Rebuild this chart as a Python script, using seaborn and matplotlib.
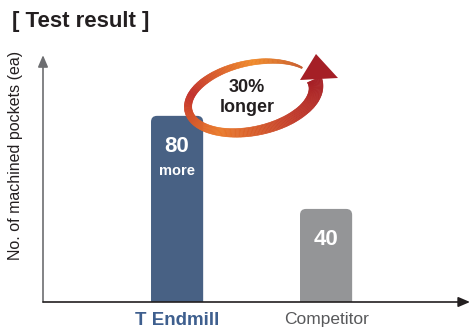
import numpy as np
import pandas as pd
import matplotlib
matplotlib.use("Agg")
import matplotlib.pyplot as plt
import seaborn as sns
from matplotlib.patches import FancyBboxPatch, Polygon
from matplotlib.collections import PolyCollection
from matplotlib.colors import LinearSegmentedColormap

sns.set_style("white")
plt.rcParams["font.family"] = ["Liberation Sans", "DejaVu Sans"]

# --------------------------------------
# DATA
# --------------------------------------
tools = ["T Endmill", "Competitor"]
pockets = [80, 40]
bar_notes = ["more", ""]
bar_colors = ["#3e5f8e", "#939598"]
label_colors = ["#3e5f8e", "#58595b"]
label_weights = ["bold", "normal"]

df = pd.DataFrame({"tool": tools, "pockets": pockets})

W, H = 473, 331
fig = plt.figure(figsize=(W / 100, H / 100), dpi=100)
ax = fig.add_axes([43 / W, 29 / H, 427 / W, 242 / H])

sns.barplot(data=df, x="tool", y="pockets", hue="tool", palette=bar_colors,
            width=0.35, legend=False, ax=ax)

ax.set_xlim(-0.9, 1.966)
ax.set_ylim(0, 104)

# rounded tops: swap the seaborn rectangles for rounded boxes
px_x = 427 / (1.966 + 0.9)
px_y = 242 / 104
for p in list(ax.patches):
    x, w, h = p.get_x(), p.get_width(), p.get_height()
    fc = p.get_facecolor()
    p.remove()
    r = 6 / px_x
    box = FancyBboxPatch((x, -8), w, h + 8,
                         boxstyle=f"round,pad=0,rounding_size={r}",
                         mutation_aspect=px_x / px_y,
                         facecolor=fc, edgecolor="none", clip_on=True)
    ax.add_patch(box)

# value labels
for i, (v, note) in enumerate(zip(pockets, bar_notes)):
    ax.text(i, v - 13, str(v), ha="center", va="center", color="white",
            fontsize=16, fontweight="bold")
    if note:
        ax.text(i, v - 23.5, note, ha="center", va="center", color="white",
                fontsize=10.5, fontweight="bold")

# axes as arrows
for s in ax.spines.values():
    s.set_visible(False)
ax.set_yticks([])
ax.set_xlabel("")
ax.set_ylabel("")
ax.annotate("", xy=(0, 1.02), xytext=(0, 0), xycoords="axes fraction",
            arrowprops=dict(arrowstyle="-|>,head_length=0.7,head_width=0.3",
                            color="#6d6e71", lw=1.2, shrinkA=0, shrinkB=0),
            annotation_clip=False)
ax.annotate("", xy=(1.0, 0), xytext=(0, 0), xycoords="axes fraction",
            arrowprops=dict(arrowstyle="-|>,head_length=0.7,head_width=0.3",
                            color="#231f20", lw=1.2, shrinkA=0, shrinkB=0),
            annotation_clip=False)

ax.set_xticks(range(len(tools)))
ax.set_xticklabels(tools)
ax.tick_params(axis="x", length=0, pad=7)
for lab, c, fw in zip(ax.get_xticklabels(), label_colors, label_weights):
    lab.set_color(c)
    lab.set_fontweight(fw)
    lab.set_fontsize(13.5 if fw == "bold" else 12.5)

fig.text(16 / W, 1 - 155 / H, "No. of machined pockets (ea)", rotation=90,
         ha="center", va="center", fontsize=11.5, color="#231f20")

fig.text(12 / W, 1 - 22 / H, "[ Test result ]", ha="left", va="center",
         fontsize=16, fontweight="bold", color="#231f20")

# --------------------------------------
# curved "30% longer" arrow (figure pixel space)
# --------------------------------------
ov = fig.add_axes([0, 0, 1, 1], zorder=5)
ov.set_xlim(0, W)
ov.set_ylim(H, 0)
ov.axis("off")
ov.patch.set_alpha(0)

cx, cy, a, b, phi = 252, 97, 65, 34, np.deg2rad(12)
th = np.deg2rad(np.linspace(32, 367, 280))
X = a * np.cos(th) * np.cos(phi) - b * np.sin(th) * np.sin(phi)
Y = a * np.cos(th) * np.sin(phi) + b * np.sin(th) * np.cos(phi)
px = cx + X
py = cy - Y
t = np.linspace(0, 1, len(th))
wid = np.interp(t, [0, 0.12, 0.3, 0.6, 0.85, 1.0], [1.5, 5, 7, 8, 11, 15])
dx = np.gradient(px)
dy = np.gradient(py)
n = np.hypot(dx, dy)
nx, ny = -dy / n, dx / n
ox1, oy1 = px + nx * wid / 2, py + ny * wid / 2
ox2, oy2 = px - nx * wid / 2, py - ny * wid / 2
ring_cmap = LinearSegmentedColormap.from_list(
    "ring", [(0, "#c65a2c"), (0.15, "#f08a2a"), (0.36, "#c22e2a"),
             (0.6, "#ea7a2b"), (0.82, "#c0392b"), (1.0, "#a51f26")])
quads = []
cols = []
for i in range(len(th) - 1):
    quads.append([(ox1[i], oy1[i]), (ox1[i + 1], oy1[i + 1]),
                  (ox2[i + 1], oy2[i + 1]), (ox2[i], oy2[i])])
    cols.append(ring_cmap(t[i]))
ov.add_collection(PolyCollection(quads, facecolors=cols, edgecolors=cols,
                                 linewidths=0.4))
ov.add_patch(Polygon([(316, 54), (300, 80), (338, 78)], closed=True,
                     facecolor="#a51f26", edgecolor="none"))

ov.text(247, 87, "30%", ha="center", va="center", fontsize=13,
        fontweight="bold", color="#231f20")
ov.text(247, 107, "longer", ha="center", va="center", fontsize=13,
        fontweight="bold", color="#231f20")

fig.savefig("out.png", dpi=100)
